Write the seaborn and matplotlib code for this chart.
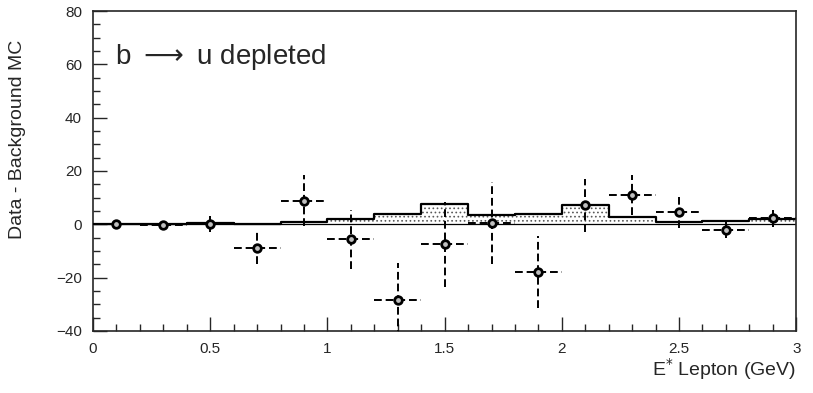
import seaborn as sns
import matplotlib.pyplot as plt
import numpy as np
from matplotlib.ticker import MultipleLocator

# data
bin_edges = [0.0, 0.2, 0.4, 0.6, 0.8, 1.0, 1.2, 1.4, 1.6, 1.8, 2.0, 2.2, 2.4, 2.6, 2.8, 3.0]
e_lepton = [0.1, 0.3, 0.5, 0.7, 0.9, 1.1, 1.3, 1.5, 1.7, 1.9, 2.1, 2.3, 2.5, 2.7, 2.9]
data_minus_bkg = [0.0, -0.3, 0.0, -9.0, 8.8, -5.6, -28.5, -7.5, 0.5, -18.0, 7.1, 11.0, 4.5, -2.0, 2.2]
data_err = [1.0, 1.0, 3.0, 6.0, 9.5, 11.0, 14.0, 16.0, 15.5, 13.5, 10.0, 7.5, 5.8, 3.2, 3.3]
mc_bu = [0.0, 0.0, 0.3, 0.0, 0.8, 1.9, 4.0, 7.5, 3.4, 4.0, 7.1, 2.6, 0.8, 1.1, 1.9]

sns.set_style("ticks")
plt.rcParams['font.family'] = ['Liberation Sans', 'DejaVu Sans']
plt.rcParams['mathtext.fontset'] = 'dejavusans'
plt.rcParams['hatch.linewidth'] = 0.7

fig = plt.figure(figsize=(8.13, 3.93), dpi=100)
ax = fig.add_axes([0.1144, 0.158, 0.865, 0.814])

# MC b->u histogram: stippled fill + solid step outline
sns.histplot(x=e_lepton, weights=mc_bu, bins=bin_edges, element="step", fill=True,
             color="black", ax=ax, linewidth=0)
for coll in ax.collections:
    coll.set_facecolor("white")
    coll.set_edgecolor("0.35")
    coll.set_hatch("....")
    coll.set_linewidth(0)
sns.histplot(x=e_lepton, weights=mc_bu, bins=bin_edges, element="step", fill=False,
             color="black", ax=ax, linewidth=1.6)

ax.axhline(0, color="black", lw=0.9, zorder=1)

# data points with dashed error bars
eb = ax.errorbar(e_lepton, data_minus_bkg, xerr=0.1, yerr=data_err, fmt="none",
                 ecolor="black", elinewidth=1.4, capsize=0, zorder=3)
for lc in eb[2]:
    lc.set_linestyle((0, (4, 2)))
sns.scatterplot(x=e_lepton, y=data_minus_bkg, ax=ax, marker="o", s=30,
                facecolor="0.75", edgecolor="black", linewidth=2, zorder=4)

ax.set_xlim(0, 3)
ax.set_ylim(-40, 80)
ax.set_xticks([0, 0.5, 1, 1.5, 2, 2.5, 3])
ax.set_xticklabels(["0", "0.5", "1", "1.5", "2", "2.5", "3"])
ax.xaxis.set_minor_locator(MultipleLocator(0.1))
ax.yaxis.set_major_locator(MultipleLocator(20))
ax.yaxis.set_minor_locator(MultipleLocator(5))
ax.tick_params(which="major", direction="in", length=10, width=1, labelsize=11, pad=8)
ax.tick_params(which="minor", direction="in", length=5, width=1)
for s in ax.spines.values():
    s.set_visible(True)
    s.set_linewidth(1.2)

ax.set_xlabel("E$^{*}$ Lepton (GeV)", fontsize=14)
ax.xaxis.set_label_coords(1.0, -0.08)
ax.xaxis.label.set_horizontalalignment("right")
ax.set_ylabel("Data - Background MC", fontsize=14)
ax.yaxis.set_label_coords(-0.095, 0.6)

ax.text(0.094, 60, r"b $\longrightarrow$ u depleted", fontsize=20, ha="left", va="baseline")

fig.savefig("out.png", dpi=100)
